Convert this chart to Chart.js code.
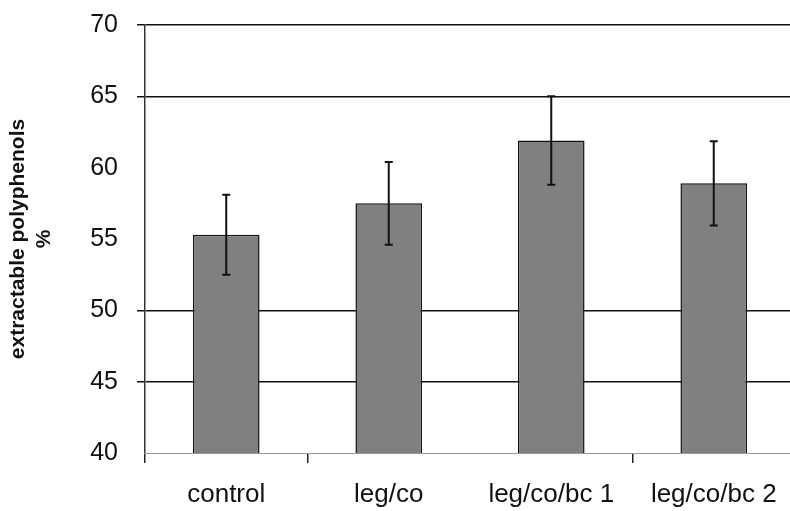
<!DOCTYPE html>
<html>
<head>
<meta charset="utf-8">
<script src="https://cdn.jsdelivr.net/npm/chart.js@4.4.1/dist/chart.umd.min.js"></script>
<style>
  html, body { margin: 0; padding: 0; background: #fff; overflow: hidden; }
  #wrap { width: 800px; height: 511px; position: relative; }
</style>
</head>
<body>
<div id="wrap"><canvas id="chart"></canvas></div>
<script>
// values
const groups = ["control", "leg/co", "leg/co/bc 1", "leg/co/bc 2"];
const polyphenols = [55.3, 57.5, 61.9, 58.9];
const errors = [2.8, 2.9, 3.1, 2.95];
const yTicks = [40, 45, 50, 55, 60, 65, 70];
const shownGridLines = [45, 50, 65, 70];

// error bars, drawn on top of the bars
const errorBars = {
  id: "errorBars",
  afterDatasetsDraw(chart) {
    const ctx = chart.ctx;
    const yScale = chart.scales.y;
    const meta = chart.getDatasetMeta(0);
    ctx.save();
    ctx.strokeStyle = "#111";
    ctx.lineWidth = 2;
    meta.data.forEach((bar, i) => {
      const x = bar.x;
      const top = yScale.getPixelForValue(polyphenols[i] + errors[i]);
      const bottom = yScale.getPixelForValue(polyphenols[i] - errors[i]);
      ctx.beginPath();
      ctx.moveTo(x, top);
      ctx.lineTo(x, bottom);
      ctx.moveTo(x - 4, top);
      ctx.lineTo(x + 4, top);
      ctx.moveTo(x - 4, bottom);
      ctx.lineTo(x + 4, bottom);
      ctx.stroke();
    });
    ctx.restore();
  }
};

new Chart(document.getElementById("chart").getContext("2d"), {
  type: "bar",
  data: {
    labels: groups,
    datasets: [{
      data: polyphenols,
      backgroundColor: "#808080",
      borderColor: "#111",
      borderWidth: 1.5,
      categoryPercentage: 1,
      barPercentage: 0.41
    }]
  },
  plugins: [errorBars],
  options: {
    responsive: true,
    maintainAspectRatio: false,
    animation: false,
    layout: { padding: { top: 25, right: 5, left: 0, bottom: 0 } },
    plugins: {
      legend: { display: false },
      tooltip: { enabled: false }
    },
    scales: {
      x: {
        grid: {
          offset: true,
          drawOnChartArea: false,
          tickLength: 10,
          lineWidth: 1.5,
          color: (c) => (c.index === 2 ? "rgba(0,0,0,0)" : "#222")
        },
        border: { color: "#999", width: 1 },
        ticks: {
          color: "#111",
          padding: 16,
          maxRotation: 0,
          font: { family: "'Liberation Sans', Arial, sans-serif", size: 26 }
        },
        afterFit: (scale) => { scale.height = 58; }
      },
      y: {
        min: 40,
        max: 70,
        afterBuildTicks: (scale) => { scale.ticks = yTicks.map(v => ({ value: v })); },
        grid: {
          lineWidth: 1.5,
          tickLength: 8,
          color: (c) => (shownGridLines.includes(c.tick.value) ? "#111" : "rgba(0,0,0,0)")
        },
        border: { color: "#333", width: 1.5 },
        ticks: {
          color: "#111",
          padding: 19,
          font: { family: "'Liberation Sans', Arial, sans-serif", size: 25 }
        },
        title: {
          display: true,
          text: ["extractable polyphenols", "%"],
          color: "#111",
          padding: { top: 6, bottom: 0 },
          font: { family: "'Liberation Sans', Arial, sans-serif", size: 21, weight: "bold", lineHeight: 1.2 }
        },
        afterFit: (scale) => {
          scale.width = 145;
          scale.paddingTop = 0;
          scale.paddingBottom = 0;
        }
      }
    }
  }
});
</script>
</body>
</html>
